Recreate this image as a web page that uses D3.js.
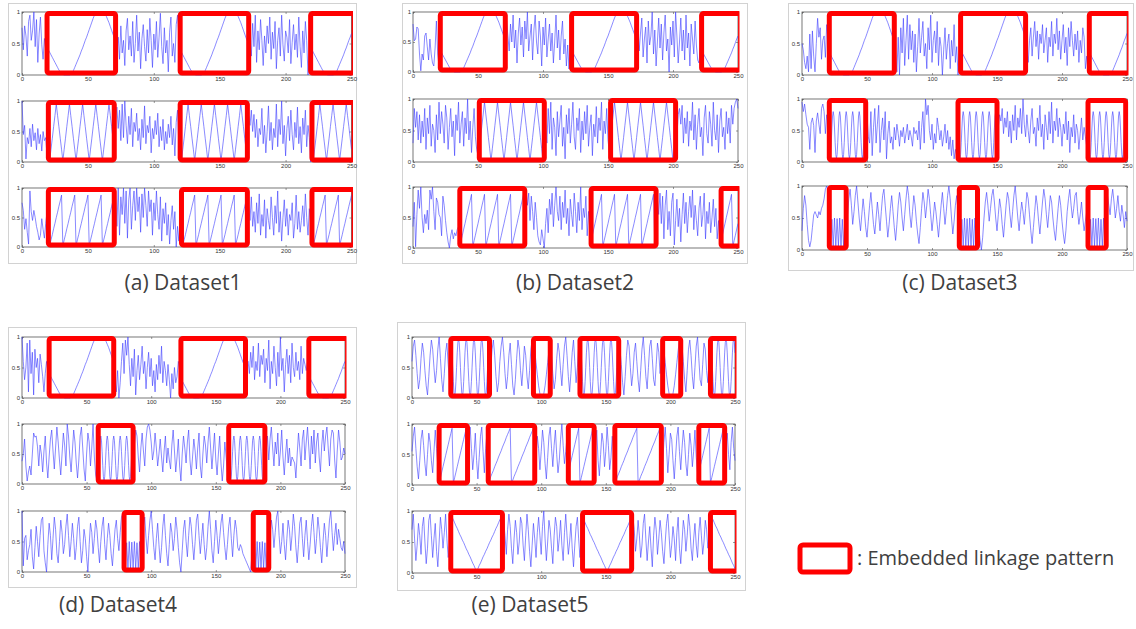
<!DOCTYPE html>
<html>
<head>
<meta charset="utf-8">
<script src="https://cdnjs.cloudflare.com/ajax/libs/d3/7.8.5/d3.min.js"></script>
<style>
  body { margin: 0; background: #fff; }
  svg { display: block; }
</style>
</head>
<body>
<script>
// Size of the page
let w = 1136;
let h = 629;

// Axis ticks and texts
const xTicks = [0, 50, 100, 150, 200, 250];
const yTicks = [0, 50, 100];
const yTickLabels = ["0", "0.5", "1"];
const captions = ["(a) Dataset1", "(b) Dataset2", "(c) Dataset3", "(d) Dataset4", "(e) Dataset5"];
const legendText = ": Embedded  linkage pattern";

// Embedded patterns (values in percent of the 0..1 range)
const sinePat = [47,44,40,36,32,28,24,20,16,12,8,5,2,1,0,0,0,0,0,1,3,7,12,17,22,27,32,38,43,49,55,60,66,72,78,84,90,95,98,100,100,100,100,100,99,97,93,88,83,77,71,65,59,54,50];
const triPat = [58,39,21,
  2,21,39,58,76,95,76,58,39,21,
  2,21,39,58,76,95,76,58,39,21,
  2,21,39,58,76,95,76,58,39,21,
  2,21,39,58,76,95,76,58,39,21,
  2,21,39,58,76,95,76,58,39,21,
  2,21,39,58,76,95,76,58,39,21];
const sawPat = [30,18,8,
  2,12,21,31,40,50,59,69,78,88,
  2,12,21,31,40,50,59,69,78,88,
  2,12,21,31,40,50,59,69,78,88,
  2,12,21,31,40,50,59,69,78,88,
  2,12,21,31,40,50,59,69,78,88,
  2,12,21,31,40,50,59,69,78,88];
const fastPat = [
  80,73,54,31,12,5,12,31,54,73, 80,73,54,31,12,5,12,31,54,73,
  80,73,54,31,12,5,12,31,54,73, 80,73,54,31,12,5,12,31,54,73,
  80,73,54,31,12,5,12,31,54,73, 80,73,54,31,12,5,12,31,54,73,
  80,73,54,31,12,5,12,31,54,73, 80,73,54,31,12,5,12,31,54,73];
const burstPat = [50,5,48,6,50,5,49,6,50,5,48,5,50,6,49,5,50,6,48,5];
const eFastPat = [
  97,91,74,50,27,9,3,9,27,50,74,91, 97,91,74,50,27,9,3,9,27,50,74,91,
  97,91,74,50,27,9,3,9,27,50,74,91, 97,91,74,50,27,9,3,9,27,50,74,91,
  97,91,74,50,27,9,3,9,27,50,74,91, 97,91,74,50,27,9,3,9,27,50,74,91];
const eUPat = [95,78,58,38,20,7,1,1,7,20,38,58,78,95,97];
const eRampS = [3,12,21,30,39,48,57,66,75,84,93, 3,12,21,30,39,48,57,66,75,84,93, 3];
const eRampL = [3,8,14,19,24,30,35,40,46,51,56,62,67,72,78,83,88,93, 3,8,14,19,24,30,35,40,46,51,56,62,67,72,78,83,88,93, 3];
const eTriPat = [95,90,86,81,76,72,67,62,58,53,49,44,39,35,30,26,21,16,12,7,3,7,12,16,21,26,30,35,39,44,49,53,58,62,67,72,76,81,86,90,95];

// step = distance in x between two pattern values
const patterns = {
  sine: { step: 1, v: sinePat }, tri: { step: 1, v: triPat }, saw: { step: 1, v: sawPat },
  fast: { step: 0.5, v: fastPat }, burst: { step: 1, v: burstPat },
  efast: { step: 0.5, v: eFastPat }, eu: { step: 1, v: eUPat },
  rs: { step: 1, v: eRampS }, rl: { step: 1, v: eRampL }, etri: { step: 1, v: eTriPat }
};

// Background series values (percent)
const noiseA1 = [75,40,78,62,30,85,95,55,70,100,45,88,20,65,92,48,25,58,40,
  42,60,25,78,35,55,15,70,90,40,62,30,85,20,50,95,38,68,10,58,80,45,22,72,35,90,55,12,65,40,85,28,60,98,45,18,75,35,55,5,68,92,30,50,20,80,95,62,
  58,30,82,45,95,20,70,40,88,55,15,62,35,78,50,92,25,68,42,85,10,55,75,30,95,48,22,70,60,35,88,18,52,80,40,65,28,92,45,12,70,35,85,55,0,40];
const noiseA2 = [100,45,60,5,40,30,55,25,62,35,48,20,55,30,45,18,50,35,40,10,
  70,90,55,85,35,95,40,100,60,30,75,45,88,25,65,50,80,35,55,20,70,40,92,30,60,48,75,15,55,38,68,45,80,25,58,35,70,20,50,30,62,40,75,28,55,10,65,85,30,
  75,60,85,50,78,40,70,25,55,45,88,30,60,15,50,92,35,65,20,55,40,95,25,70,45,100,30,60,10,55,75,35,85,45,20,65,40,90,30,58,15,72,45,85,25,60,40,0];
const noiseA3 = [75,62,30,48,25,5,95,60,45,62,50,35,25,12,20,48,30,15,40,60,
  90,35,100,20,85,55,100,40,95,15,80,100,30,70,95,45,100,60,85,25,90,50,100,70,35,95,60,80,20,75,45,95,55,30,85,10,65,40,75,20,55,5,45,70,30,60,0,35,10,50,
  70,45,85,35,60,25,75,40,90,20,55,35,80,15,65,45,30,85,50,20,70,40,95,25,60,10,50,80,35,65,20,55,45,75,15,40,88,30,60,25,45,70,35,90,50,20,65,40];
const noiseB1 = [80,52,55,75,72,30,2,30,20,60,65,42,20,55,30,15,10,40,85,30,10,
  85,60,35,80,50,95,40,70,15,65,90,45,75,25,85,55,100,35,60,80,20,70,95,50,30,85,60,10,75,45,90,25,55,80,35,65,15,50,95,40,70,20,60,85,30,55,10,45,5,40,
  80,35,65,90,25,55,75,15,85,45,60,100,30,70,10,50,90,40,80,20,65,95,35,55,0,75,45,85,25,100,60,15,50,90,35,70,20,95,40,65,10,80,55,30,85,45,20,15,40];
const noiseB2 = [30,85,55,80,35,75,30,65,40,85,20,70,45,90,25,60,50,15,75,35,95,45,80,60,30,90,70,20,55,85,40,65,10,75,50,95,30,60,80,25,70,45,100,35,65,15,55,85,40,20,10,
  60,30,85,45,95,20,70,55,10,80,40,65,90,25,55,5,75,45,85,30,60,95,40,20,70,50,85,15,65,35,80,45,90,25,55,75,10,60,40,88,30,70,50,95,20,65,45,85,35,15,
  40,75,85,60,90,30,70,45,80,25,65,50,95,35,75,20,60,85,40,55,10,70,90,45,30,80,60,25,95,50,35,75,15,65,85,40,55,20,80,45,70,30,90,60,85,95,100,85];
const noiseB3 = [35,75,2,55,95,65,100,50,25,55,40,62,30,95,80,100,60,30,82,75,55,50,20,85,70,45,25,10,0,20,30,15,25,20,30,35,
  95,70,90,45,85,60,30,75,50,20,10,5,30,15,0,40,65,25,80,55,90,35,70,100,60,45,85,30,75,50,95,40,65,20,80,55,35,90,60,25,75,45,100,30,65,50,85,20,60,30,
  80,55,90,40,85,15,70,95,30,60,20,75,90,5,45,80,35,65,10,55,90,40,75,25,60,85,50,95,30,70,45,20,65,85,35,55,90,15,60,40,75,25,50,80,35,65,15,45,10];
const noiseC1 = [50,40,20,10,30,5,65,10,70,30,5,50,90,60,75,25,55,62,28,80,55,
  30,5,60,0,75,35,90,15,55,95,25,80,40,70,20,65,5,45,90,35,60,85,30,50,10,75,40,95,20,55,70,35,85,15,60,45,0,40,75,25,50,65,10,55,30,80,20,45,0,35,
  40,20,55,75,30,60,85,45,70,25,65,50,80,35,55,75,20,60,45,85,30,65,50,90,40,70,25,55,80,35,60,15,75,45,85,55,30,65,40,70,20,55,35,75,60,10,30,5];
const noiseC2 = [95,80,92,75,60,55,20,62,70,58,15,65,78,60,45,85,92,80,45,75,60,
  75,40,30,80,10,55,85,30,60,90,15,50,70,35,80,5,45,65,30,40,20,55,35,60,45,25,50,40,55,30,45,60,35,50,40,25,55,45,50,35,65,20,55,80,30,100,75,90,50,35,60,20,45,30,70,55,35,50,25,40,60,30,50,20,40,10,35,5,20,10,
  55,75,65,85,45,70,55,80,40,65,30,75,50,90,35,70,55,85,45,100,60,40,75,50,30,65,85,45,55,25,70,50,90,40,60,20,75,55,35,80,45,95,30,65,50,85,40,70,55,25,60,45,80,35,65,15,55,40,75,30,60,50,20,45,70,35,55,40,25,
  90];
const noiseC3 = [30,65,85,70,40,15,5,15,35,55,60,55,50,60,55,65,70,80,95,100,90,
  55,80,95,70,40,60,85,100,75,50,30,55,80,60,35,20,45,70,90,65,40,25,50,75,55,30,60,85,95,70,45,20,40,65,85,60,35,15,40,70,90,75,50,30,55,80,100,85,55,35,60,85,70,45,25,10,35,65,90,75,50,70,95,80,55,30,50,75,60,40,20,45,70,90,65,40,60,85,100,80,50,25,45,70,85,60,
  35,15,0,20,50,75,90,70,45,65,85,95,75,50,30,55,80,65,40,20,45,70,90,80,55,35,60,85,100,75,50,30,55,75,60,40,65,90,80,55,30,10,35,60,85,70,45,25,50,75,95,80,55,35,60,85,75,50,30,15,40,65,85,70,45,25,10,30,60,80,95,70,50,65,85,90,60,40,55,75,50,30,45,60,
  85,70,55,80,95,75,50,65,85,60,45,70,55,35,60,45];
const noiseD1 = [100,60,30,50,90,10,95,40,75,5,80,50,65,25,72,55,35,10,40,60,45,
  30,10,45,0,25,60,90,40,95,70,100,55,20,65,35,80,5,45,70,30,55,85,40,60,15,50,75,35,65,20,45,10,55,30,70,40,85,25,60,45,20,55,30,0,40,15,50,25,35,60,45,
  55,60,40,75,50,85,30,60,45,90,35,70,55,80,25,65,45,95,15,60,40,85,50,20,75,35,100,45,65,10,55,80,40,70,25,90,50,35,75,45,60,30,85,40,65,55,45,60];
const noiseD2 = [38,50,75,30,5,20,30,15,50,85,78,80,62,30,65,50,20,55,80,35,10,45,75,90,55,25,60,95,70,40,15,50,85,65,30,100,80,45,20,55,90,70,35,10,40,80,95,60,25,5,50,85,70,30,60,100,45,15,5,
  65,90,80,45,20,60,85,55,30,75,95,100,90,70,40,55,85,60,30,50,75,45,20,55,80,35,60,40,25,65,90,55,20,45,75,30,5,50,80,60,35,70,90,40,15,45,75,55,25,60,85,30,10,50,80,65,35,70,95,60,25,55,85,40,15,50,80,35,5,30,70,45,20,
  55,80,40,75,95,60,30,70,50,85,30,55,90,45,15,50,75,35,60,30,45,40,35,10,50,85,60,30,75,90,40,70,95,60,25,80,50,90,35,70,85,45,20,65,90,55,80,95,60,30,75,90,85,40,10,55,90,70,40,45,60,50];
const noiseD3 = [100,10,55,60,20,35,45,70,25,5,40,75,50,25,60,85,90,35,15,0,45,80,60,20,55,90,70,30,15,50,85,65,30,45,75,95,60,25,50,80,55,20,40,75,90,50,15,35,70,55,25,0,45,80,65,30,55,85,70,40,15,50,75,90,45,20,55,80,60,30,10,40,70,85,55,35,65,90,95,
  75,90,55,30,60,85,100,70,40,20,55,80,45,15,40,75,95,60,30,10,45,80,65,35,55,90,70,40,15,0,35,70,85,50,25,60,90,75,45,20,50,85,95,60,30,55,80,45,20,40,75,100,70,35,15,50,85,60,30,55,80,95,65,40,20,45,75,90,55,25,60,85,70,40,35,45,40,30,25,20,15,10,5,0,30,
  60,85,70,40,65,90,100,60,30,50,80,45,20,55,85,70,35,60,95,75,40,15,45,80,90,55,25,60,85,50,20,45,75,95,65,30,55,90,70,40,15,50,80,60,25,55,85,100,65,35,60,80,45,70,55,40,35,50,30];
const noiseE1 = [60,85,95,70,40,15,30,65,90,75,45,20,5,35,70,95,80,50,25,45,80,100,65,30,10,40,75,90,55,30,
  50,80,95,70,35,10,25,60,85,100,75,40,15,35,70,90,55,20,5,30,65,95,80,45,20,50,85,70,35,15,45,80,95,
  70,40,15,30,65,90,75,45,20,55,85,100,70,35,10,40,75,95,60,25,50,85,
  80,55,25,5,35,70,95,85,50,20,40,75,90,60,30,10,45,80,100,70,35,15,50,85,95,65,30,20,55,90,75,40,60,
  85,60,30,10,45,80,95,70,35,15,50,85,100,65,30,20,55,90,80,45,25,70];
const noiseE2 = [55,80,95,60,30,10,40,75,90,65,35,15,50,85,70,40,20,55,90,60,30,
  70,95,60,25,50,85,40,10,45,80,95,55,20,60,85,
  45,80,60,25,55,90,70,35,10,45,80,95,60,30,65,90,50,20,40,75,100,65,35,55,80,
  60,90,40,15,50,85,70,30,55,95,65,25,45,80,55,
  35,70,95,60,20,50,85,75,40,10,45,80,95,55,25,60,90,70,35,15,50,85,65,30,55,90,45,20,
  60,85,50,25,70,95,60,40];
const noiseE3 = [70,95,55,20,45,80,60,30,75,90,50,15,40,85,95,60,25,55,80,35,10,50,90,70,40,65,95,55,25,45,
  85,60,30,70,95,75,40,15,55,85,65,30,50,90,80,45,20,60,95,70,35,10,45,80,55,25,65,90,60,30,75,100,55,20,50,85,70,40,15,60,90,75,35,55,85,45,20,65,95,60,30,50,80,40,10,45,75,90,55,25,60,
  90,70,35,55,85,60,25,45,80,95,55,20,50,75,40,10,60,90,70,30,55,85,65,35,15,50,80,95,60,25,45,75,55,20,65,90,40,15,50,85,70,35,60,95,75,40,20,55,80,45,25,65,90,60,30,50,85,70,40,60];

// Marked windows: [from x, to x, pattern, first pattern value]
const boxesA1 = [[19, 71, "sine", 1], [120, 172, "sine", 2], [219, 252, "sine", 1]];
const boxesA2 = [[20, 70, "tri", 2], [120, 171, "tri", 2], [220, 252, "tri", 2]];
const boxesA3 = [[20, 70, "saw", 2], [121, 171, "saw", 2], [220, 252, "saw", 2]];
const boxesB1 = [[21, 71, "sine", 3], [122, 172, "sine", 3], [222, 252, "sine", 3]];
const boxesB2 = [[51, 101, "tri", 4], [152, 202, "tri", 5]];
const boxesB3 = [[36, 86, "saw", 3], [137, 187, "saw", 4], [237, 252, "saw", 4]];
const boxesC1 = [[21, 71, "sine", 3], [122, 172, "sine", 2], [221, 252, "sine", 3]];
const boxesC2 = [[21, 49, "fast", 4], [120, 150, "fast", 2], [220, 249, "fast", 2]];
const boxesC3 = [[21, 34, "burst", 0], [121, 135, "burst", 0], [220, 234, "burst", 0]];
const boxesD1 = [[21, 71, "sine", 2], [123, 173, "sine", 4], [222, 252, "sine", 3]];
const boxesD2 = [[59, 86, "fast", 6], [160, 188, "fast", 2]];
const boxesD3 = [[79, 93, "burst", 0], [179, 191, "burst", 1]];
const boxesE1 = [[30, 60, "efast", 0], [94, 107, "eu", 0], [130, 160, "efast", 0], [194, 208, "eu", 0], [231, 252, "efast", 0]];
const boxesE2 = [[21, 43, "rs", 0], [59, 95, "rl", 0], [121, 141, "rs", 2], [157, 193, "rl", 0], [222, 242, "rs", 2]];
const boxesE3 = [[30, 70, "etri", 0], [132, 170, "etri", 1], [231, 252, "etri", 0]];

const seriesByPanel = [
  [[noiseA1, boxesA1], [noiseA2, boxesA2], [noiseA3, boxesA3]],
  [[noiseB1, boxesB1], [noiseB2, boxesB2], [noiseB3, boxesB3]],
  [[noiseC1, boxesC1], [noiseC2, boxesC2], [noiseC3, boxesC3]],
  [[noiseD1, boxesD1], [noiseD2, boxesD2], [noiseD3, boxesD3]],
  [[noiseE1, boxesE1], [noiseE2, boxesE2], [noiseE3, boxesE3]]
];

// Where each small picture sits on the page
const layout = [
  { left: 22, right: 351.5, rows: [[12, 75], [101, 162], [188, 247]], frame: [8, 3, 348, 260], cap: [183, 290] },
  { left: 413, right: 738, rows: [[12, 72], [99, 162], [187, 248]], frame: [402, 3, 345, 260], cap: [575, 290] },
  { left: 802, right: 1127, rows: [[12, 75], [99, 162], [186, 250]], frame: [788, 3, 345, 267], cap: [960, 290] },
  { left: 22, right: 345, rows: [[337, 398], [424, 484], [511, 572]], frame: [8, 327, 348, 260], cap: [118, 612] },
  { left: 412, right: 735, rows: [[337, 398], [424, 485], [511, 573]], frame: [397, 322, 348, 268], cap: [530, 612] }
];

// join background values and pattern values into one line
function buildSeries(noise, boxes) {
  let pts = [];
  let n = 0, x = 0;
  boxes.forEach(function (b) {
    while (x < b[0]) { pts.push([x, noise[n++]]); x++; }
    let p = patterns[b[2]];
    for (let i = 0; b[0] + i * p.step <= Math.min(b[1], 250); i++) {
      pts.push([b[0] + i * p.step, p.v[b[3] + i]]);
    }
    x = b[1] + 1;
  });
  while (x <= 250) { pts.push([x, noise[n++]]); x++; }
  return pts;
}

let svg = d3.select("body").append("svg")
  .attr("width", w)
  .attr("height", h);

layout.forEach(function (p, pi) {
  let g = svg.append("g");

  // light frame of the small picture
  g.append("rect")
    .attr("x", p.frame[0] + 0.5).attr("y", p.frame[1] + 0.5)
    .attr("width", p.frame[2]).attr("height", p.frame[3])
    .attr("fill", "none").attr("stroke", "#d2d2d2").attr("stroke-width", 1);

  let clipId = "clip" + pi;
  svg.append("clipPath").attr("id", clipId).append("rect")
    .attr("x", p.frame[0]).attr("y", p.frame[1])
    .attr("width", p.right + 1.5 - p.frame[0]).attr("height", p.frame[3]);

  let x = d3.scaleLinear().domain([0, 250]).range([p.left, p.right]);

  p.rows.forEach(function (r, ri) {
    let y = d3.scaleLinear().domain([0, 100]).range([r[1], r[0]]);
    let s = seriesByPanel[pi][ri];
    let pts = buildSeries(s[0], s[1]);

    g.append("rect")
      .attr("x", p.left).attr("y", r[0])
      .attr("width", p.right - p.left).attr("height", r[1] - r[0])
      .attr("fill", "#fff").attr("stroke", "#555").attr("stroke-width", 0.8);

    let axB = g.append("g").attr("transform", "translate(0," + r[1] + ")")
      .call(d3.axisBottom(x).tickValues(xTicks).tickSizeInner(-2).tickSizeOuter(0).tickPadding(2));
    let axT = g.append("g").attr("transform", "translate(0," + r[0] + ")")
      .call(d3.axisTop(x).tickValues(xTicks).tickSizeInner(-2).tickSizeOuter(0).tickFormat(""));
    let axL = g.append("g").attr("transform", "translate(" + p.left + ",0)")
      .call(d3.axisLeft(y).tickValues(yTicks).tickSizeInner(-2).tickSizeOuter(0).tickPadding(2)
        .tickFormat(function (d, i) { return yTickLabels[i]; }));
    let axR = g.append("g").attr("transform", "translate(" + p.right + ",0)")
      .call(d3.axisRight(y).tickValues(yTicks).tickSizeInner(-2).tickSizeOuter(0).tickFormat(""));
    [axB, axT, axL, axR].forEach(function (a) {
      a.select(".domain").remove();
      a.selectAll("line").attr("stroke", "#555").attr("stroke-width", 0.6);
      a.selectAll("text").attr("font-family", "Liberation Sans, Arial, sans-serif")
        .attr("font-size", 6).attr("fill", "#333");
    });

    g.append("path").datum(pts)
      .attr("clip-path", "url(#" + clipId + ")")
      .attr("fill", "none")
      .attr("stroke", "#3a3aff")
      .attr("stroke-width", 0.6)
      .attr("d", d3.line().defined(function (d) { return d[1] != null; })
        .x(function (d) { return x(d[0]); })
        .y(function (d) { return y(d[1]); }));

    g.selectAll(null).data(s[1]).enter().append("rect")
      .attr("clip-path", "url(#" + clipId + ")")
      .attr("x", function (b) { return x(b[0]); })
      .attr("y", r[0] + 1.5)
      .attr("width", function (b) { return x(b[1]) - x(b[0]); })
      .attr("height", r[1] - r[0] - 3.5)
      .attr("rx", 2)
      .attr("fill", "none")
      .attr("stroke", "#ff0000")
      .attr("stroke-width", 5);
  });

  svg.append("text")
    .attr("x", p.cap[0]).attr("y", p.cap[1])
    .attr("text-anchor", "middle")
    .attr("font-family", "Open Sans, Noto Sans, sans-serif")
    .attr("font-size", 21)
    .attr("fill", "#404040")
    .text(captions[pi]);
});

// legend
svg.append("rect")
  .attr("x", 800).attr("y", 545).attr("width", 50).attr("height", 27)
  .attr("rx", 3).attr("fill", "none").attr("stroke", "#ff0000").attr("stroke-width", 5);
svg.append("text")
  .attr("x", 857).attr("y", 565)
  .attr("font-family", "Open Sans, Noto Sans, sans-serif")
  .attr("font-size", 20)
  .attr("fill", "#404040")
  .text(legendText);
</script>
</body>
</html>
